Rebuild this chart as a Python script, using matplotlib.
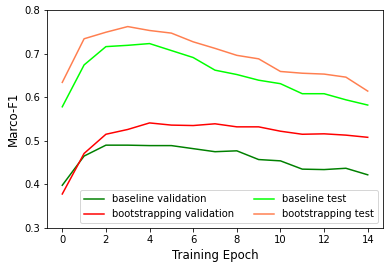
import matplotlib
matplotlib.use("Agg")
import matplotlib.pyplot as plt

epochs = list(range(15))
baseline_val = [0.398, 0.465, 0.490, 0.490, 0.489, 0.489, 0.482, 0.475, 0.477, 0.457,
                0.454, 0.435, 0.434, 0.437, 0.422]
boot_val = [0.378, 0.471, 0.515, 0.526, 0.541, 0.536, 0.535, 0.539, 0.532, 0.532,
            0.522, 0.515, 0.516, 0.513, 0.508]
baseline_test = [0.578, 0.674, 0.716, 0.719, 0.723, 0.707, 0.691, 0.662, 0.652, 0.639,
                 0.631, 0.608, 0.608, 0.594, 0.582]
boot_test = [0.634, 0.734, 0.749, 0.762, 0.753, 0.747, 0.727, 0.712, 0.696, 0.688,
             0.659, 0.655, 0.653, 0.646, 0.614]

# original looks like a 100dpi figure shrunk to ~72%
DPI = 72
fig = plt.figure(figsize=(389 / DPI, 269 / DPI), dpi=DPI)
ax = fig.add_axes([47 / 389, 41 / 269, 336 / 389, 218 / 269])

ax.plot(epochs, baseline_val, color='green', label='baseline validation')
ax.plot(epochs, boot_val, color='red', label='bootstrapping validation')
ax.plot(epochs, baseline_test, color='lime', label='baseline test')
ax.plot(epochs, boot_test, color='coral', label='bootstrapping test')

ax.set_ylim(0.3, 0.8)
ax.set_xticks(range(0, 15, 2))
ax.set_xlabel('Training Epoch', fontsize=11.7)
ax.set_ylabel('Marco-F1', fontsize=11.7)
ax.legend(loc='lower right', ncol=2)

fig.savefig('out.png', dpi=DPI)
